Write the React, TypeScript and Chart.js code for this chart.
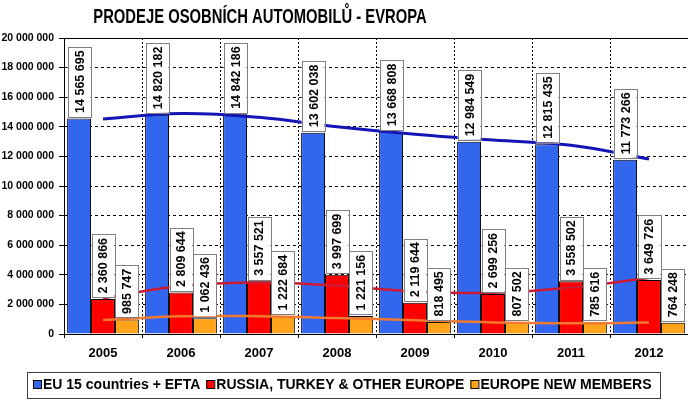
import { useEffect, useRef } from "react";
import { Chart, registerables } from "chart.js";

Chart.register(...registerables);

const FONT = "'Liberation Sans', Arial, sans-serif";

const chartTitle = "PRODEJE OSOBNÍCH AUTOMOBILŮ - EVROPA";
const years = ["2005", "2006", "2007", "2008", "2009", "2010", "2011", "2012"];
const seriesNames = ["EU 15 countries + EFTA", "RUSSIA, TURKEY & OTHER EUROPE", "EUROPE NEW MEMBERS"];

const eu15Efta = [14565695, 14820182, 14842186, 13602038, 13668808, 12984549, 12815435, 11773266];
const russiaTurkeyOther = [2360866, 2809644, 3557521, 3997699, 2119644, 2699256, 3558502, 3649726];
const europeNewMembers = [985747, 1062436, 1222684, 1221156, 818495, 807502, 785616, 764248];

// trendlines at each category
const eu15Trend = [14530000, 14900000, 14640000, 14000000, 13490000, 13100000, 12750000, 11820000];
const russiaTrend = [2420000, 3250000, 3480000, 3270000, 2880000, 2780000, 3150000, 3780000];
const newMembersTrend = [950000, 1200000, 1200000, 1080000, 930000, 780000, 730000, 770000];

const yMin = 0;
const yMax = 20000000;
const yStep = 2000000;

const barColors = ["#3366ee", "#ff0000", "#ffa31a"];
const trendColors = ["#1515b5", "#cc1a33", "#f07a30"];

const fmt = (n: number) => String(Math.round(n)).replace(/\B(?=(\d{3})+(?!\d))/g, " ");

const decorPlugin = {
  id: "decor",
  beforeDraw(chart: any) {
    const ctx = chart.ctx;
    ctx.save();
    ctx.fillStyle = "#ffffff";
    ctx.fillRect(0, 0, chart.width, chart.height);
    ctx.restore();
  },
  afterDatasetsDraw(chart: any) {
    const ctx = chart.ctx;
    ctx.save();
    ctx.font = `bold 12.5px ${FONT}`;
    for (let d = 0; d < 3; d++) {
      const meta = chart.getDatasetMeta(d);
      const data = chart.data.datasets[d].data as number[];
      meta.data.forEach((el: any, i: number) => {
        const txt = fmt(data[i]);
        const tw = ctx.measureText(txt).width;
        const w = el.width - 1;
        const h = tw + 7;
        const bottom = el.y - 2;
        const left = el.x - w / 2;
        ctx.fillStyle = "#ffffff";
        ctx.fillRect(left, bottom - h, w, h);
        ctx.strokeStyle = "#808080";
        ctx.lineWidth = 1;
        ctx.strokeRect(Math.round(left) + 0.5, Math.round(bottom - h) + 0.5, Math.round(w), Math.round(h));
        ctx.save();
        ctx.translate(el.x, bottom - h / 2);
        ctx.rotate(-Math.PI / 2);
        ctx.fillStyle = "#000000";
        ctx.textAlign = "center";
        ctx.textBaseline = "middle";
        ctx.fillText(txt, 0, 1);
        ctx.restore();
      });
    }
    ctx.restore();
  },
  afterDraw(chart: any) {
    const ctx = chart.ctx;
    const area = chart.chartArea;
    ctx.save();
    // top border
    ctx.strokeStyle = "#000000";
    ctx.lineWidth = 1;
    ctx.beginPath();
    ctx.moveTo(area.left - 5, Math.round(area.top) + 0.5);
    ctx.lineTo(area.right, Math.round(area.top) + 0.5);
    ctx.stroke();

    // title
    ctx.save();
    ctx.font = `bold 21px ${FONT}`;
    ctx.fillStyle = "#000000";
    ctx.textAlign = "center";
    ctx.textBaseline = "alphabetic";
    ctx.translate(260, 23);
    ctx.scale(0.705, 1);
    ctx.fillText(chartTitle, 0, 0);
    ctx.restore();

    // legend
    const lx = 27, ly = 372, lw = 633, lh = 26;
    ctx.fillStyle = "#ffffff";
    ctx.fillRect(lx, ly, lw, lh);
    ctx.strokeStyle = "#404040";
    ctx.strokeRect(lx + 0.5, ly + 0.5, lw, lh);
    ctx.font = `bold 14px ${FONT}`;
    ctx.textBaseline = "middle";
    ctx.textAlign = "left";
    let x = 33;
    const cy = 385;
    seriesNames.forEach((name, i) => {
      ctx.fillStyle = barColors[i];
      ctx.fillRect(x, cy - 5, 8, 8);
      ctx.strokeStyle = "#000000";
      ctx.strokeRect(x + 0.5, cy - 4.5, 8, 8);
      ctx.fillStyle = "#000000";
      ctx.fillText(name, x + 10, cy);
      x += 10 + ctx.measureText(name).width + 6;
    });
    ctx.restore();
  },
};

export default function App() {
  const ref = useRef<HTMLCanvasElement | null>(null);

  useEffect(() => {
    if (!ref.current) return;
    const barSets = [eu15Efta, russiaTurkeyOther, europeNewMembers].map((data, i) => ({
      type: "bar" as const,
      label: seriesNames[i],
      data,
      backgroundColor: barColors[i],
      borderColor: "#000000",
      borderWidth: 1,
      categoryPercentage: 0.92,
      barPercentage: 1.0,
      order: 2,
    }));
    const trendSets = [eu15Trend, russiaTrend, newMembersTrend].map((data, i) => ({
      type: "line" as const,
      label: seriesNames[i] + " trend",
      data,
      borderColor: trendColors[i],
      borderWidth: i === 0 ? 3 : 2.5,
      pointRadius: 0,
      tension: 0.4,
      fill: false,
      order: 1,
    }));

    const chart = new Chart(ref.current, {
      type: "bar",
      data: { labels: years, datasets: [...barSets, ...trendSets] as any },
      options: {
        responsive: false,
        animation: false,
        devicePixelRatio: 1,
        layout: { padding: { top: 38, bottom: 36, left: 0, right: 0 } },
        plugins: { legend: { display: false }, tooltip: { enabled: false }, title: { display: false } },
        scales: {
          x: {
            offset: true,
            afterFit: (s: any) => { s.height = 30; },
            grid: {
              offset: true,
              color: "#000000",
              lineWidth: 1,
              tickLength: 4,
              drawTicks: true,
            },
            border: { display: true, color: "#000000", width: 1, dash: (c: any) => (c.type === "scale" ? [] : [2, 2]) } as any,
            ticks: {
              color: "#000000",
              font: { family: FONT, size: 13, weight: "bold" },
              padding: 8,
              maxRotation: 0,
            },
          },
          y: {
            min: yMin,
            max: yMax,
            afterFit: (s: any) => { s.width = 64; },
            grid: {
              color: "#000000",
              lineWidth: 1,
              tickLength: 5,
            },
            border: { display: true, color: "#000000", width: 1, dash: (c: any) => (c.type === "scale" ? [] : [3, 3]) } as any,
            ticks: {
              stepSize: yStep,
              color: "#000000",
              font: { family: FONT, size: 10.5, weight: "bold" },
              padding: 5,
              callback: (v: any) => fmt(Number(v)),
            },
          },
        },
      },
      plugins: [decorPlugin],
    });
    return () => chart.destroy();
  }, []);

  return (
    <div style={{ position: "fixed", left: 0, top: 0, width: 688, height: 400, background: "#ffffff" }}>
      <canvas ref={ref} width={688} height={400} style={{ display: "block" }} />
    </div>
  );
}
